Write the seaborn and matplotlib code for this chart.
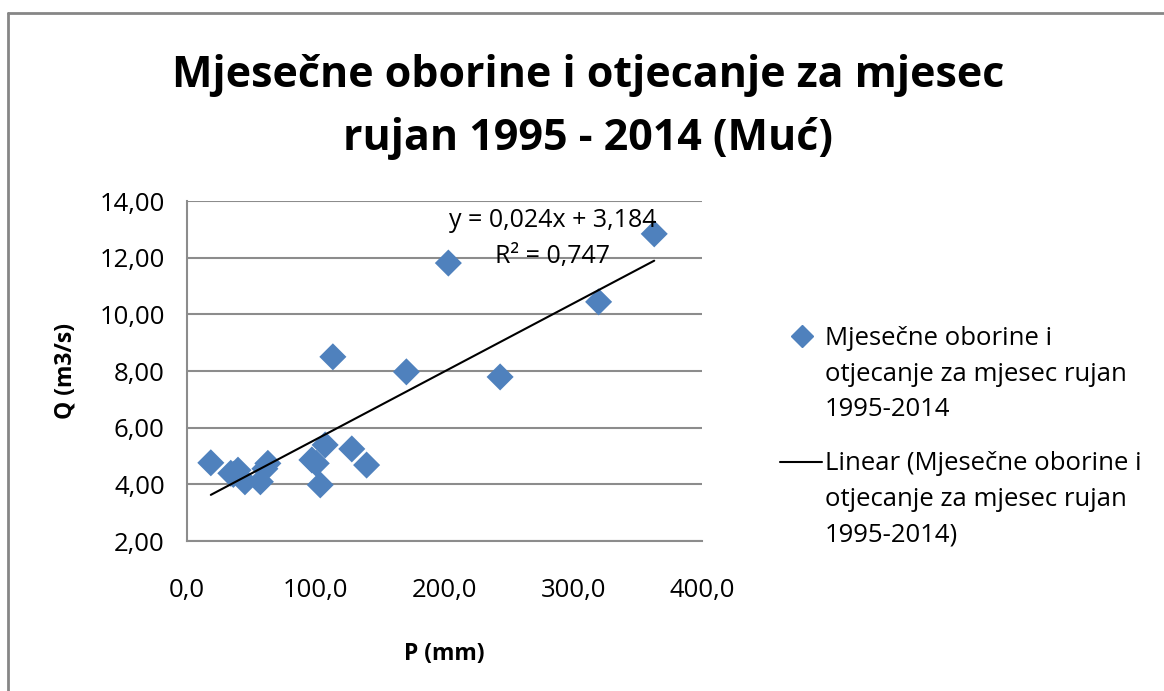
import matplotlib
matplotlib.use("Agg")
import matplotlib.pyplot as plt
import seaborn as sns
import numpy as np
import pandas as pd
from matplotlib.lines import Line2D

# Data
P_mm = [18.5, 34, 39.6, 45, 57, 62.8, 60.5, 97, 100.4, 107.3, 103.5, 128, 139.5,
        113.3, 170.4, 203, 243.2, 319.7, 362.9, 36]
Q_m3s = [4.76, 4.39, 4.50, 4.09, 4.09, 4.74, 4.55, 4.86, 4.74, 5.39, 3.98, 5.25, 4.68,
         8.50, 7.97, 11.81, 7.79, 10.44, 12.84, 4.35]
slope, intercept, r2 = 0.024, 3.184, 0.747
x_ticks = [0, 100, 200, 300, 400]
y_ticks = [2, 4, 6, 8, 10, 12, 14]

title = "Mjesečne oborine i otjecanje za mjesec\nrujan 1995 - 2014 (Muć)"
series_label = "Mjesečne oborine i\notjecanje za mjesec rujan\n1995-2014"
trend_label = "Linear (Mjesečne oborine i\notjecanje za mjesec rujan\n1995-2014)"

sns.set_theme(style="white")
plt.rcParams['font.family'] = ['Open Sans', 'DejaVu Sans']
plt.rcParams['text.color'] = 'black'
plt.rcParams['axes.labelcolor'] = 'black'

W, H = 1164, 691
fig = plt.figure(figsize=(W / 100, H / 100), dpi=100)
ax = fig.add_axes([187/W, 1 - 541/H, (702-187)/W, (541-201)/H])

df = pd.DataFrame({"P": P_mm, "Q": Q_m3s})
sns.scatterplot(data=df, x="P", y="Q", marker="D", s=190, color="#4F81BD",
                edgecolor="none", ax=ax, zorder=3)

xs = np.array([min(P_mm), max(P_mm)])
ax.plot(xs, slope * xs + intercept, color="black", lw=1.5, zorder=4)

ax.set_xlim(0, 400)
ax.set_ylim(2, 14)
ax.set_xticks(x_ticks)
ax.set_yticks(y_ticks)
ax.set_xticklabels([f"{v:.1f}".replace(".", ",") for v in x_ticks], fontsize=18.5)
ax.set_yticklabels([f"{v:.2f}".replace(".", ",") for v in y_ticks], fontsize=18.5)
ax.yaxis.grid(True, color="#8c8c8c", lw=1.5)
ax.set_axisbelow(True)
for s in ["top", "right"]:
    ax.spines[s].set_visible(False)
for s in ["left", "bottom"]:
    ax.spines[s].set_color("#8c8c8c")
    ax.spines[s].set_linewidth(1.5)
ax.tick_params(axis="both", direction="out", length=7, width=1.5, color="#8c8c8c",
               labelcolor="black")
ax.tick_params(axis="x", pad=20)
ax.tick_params(axis="y", pad=9)
ax.set_xlabel("P (mm)", fontsize=16.5, fontweight="bold", labelpad=28)
ax.set_ylabel("Q (m3/s)", fontsize=16.5, fontweight="bold", labelpad=16)

ax.text(284, 13.3, f"y = {slope:.3f}x + {intercept:.3f}".replace(".", ","),
        fontsize=18, ha="center", va="center")
ax.text(284, 12.05, f"R² = {r2:.3f}".replace(".", ","),
        fontsize=18, ha="center", va="center")

fig.text(0.505, 0.845, title, fontsize=31, fontweight="bold", ha="center",
         va="center", linespacing=1.62)

# legend (drawn as handle + text blocks)
fig.add_artist(Line2D([802/W], [1 - 336/H], marker="D", color="#4F81BD", ls="none",
                      markersize=11, transform=fig.transFigure))
fig.text(825/W, 1 - 326/H, series_label, fontsize=18.5, ha="left", va="top",
         linespacing=1.56, transform=fig.transFigure)
fig.add_artist(Line2D([780/W, 822/W], [1 - 462/H, 1 - 462/H], color="black", lw=1.5,
                      transform=fig.transFigure))
fig.text(825/W, 1 - 451/H, trend_label, fontsize=18.5, ha="left", va="top",
         linespacing=1.56, transform=fig.transFigure)

# chart border (top and left visible)
fig.add_artist(Line2D([8/W, 8/W], [0, 1 - 13/H], transform=fig.transFigure,
                      color="#868686", lw=2))
fig.add_artist(Line2D([8/W, 1], [1 - 13/H, 1 - 13/H], transform=fig.transFigure,
                      color="#868686", lw=2))

fig.savefig("out.png", dpi=100)
